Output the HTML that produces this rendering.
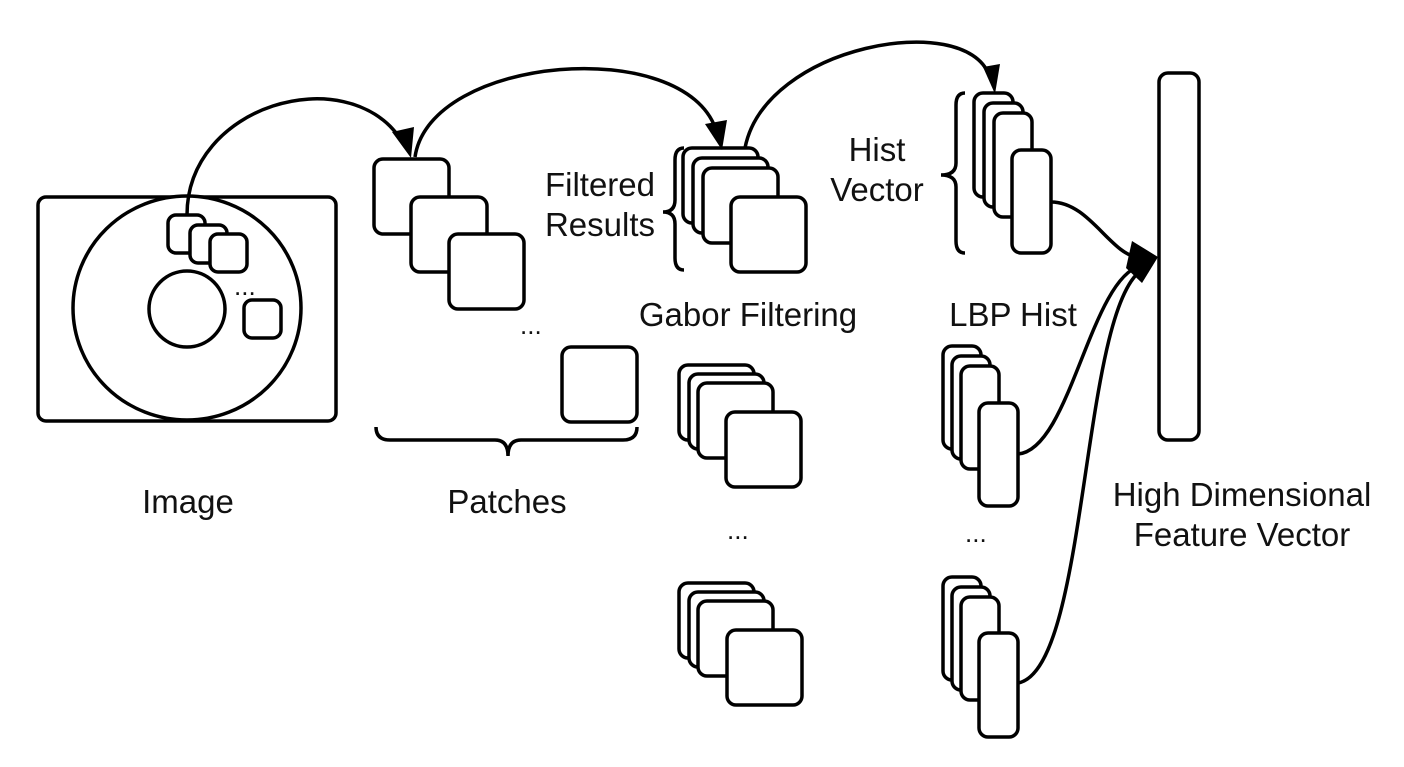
<!DOCTYPE html>
<html><head><meta charset="utf-8"><style>
html,body{margin:0;padding:0;background:#fff;}
svg{display:block;}
text{font-family:"Liberation Sans",Arial,sans-serif;font-size:33px;fill:#111;}
</style></head><body>
<svg width="1404" height="767" viewBox="0 0 1404 767" xmlns="http://www.w3.org/2000/svg">
<g fill="#fff" stroke="#000" stroke-width="3.5">
<rect x="38" y="197" width="298" height="224" rx="8"/>
<ellipse cx="187" cy="308" rx="114" ry="112"/>
<ellipse cx="187" cy="309" rx="38" ry="38"/>
<rect x="168" y="215" width="37" height="38" rx="8"/>
<rect x="190" y="225" width="37" height="38" rx="8"/>
<rect x="210" y="234" width="37" height="38" rx="8"/>
<rect x="244" y="300" width="37" height="38" rx="8"/>
<rect x="374" y="159" width="75" height="75" rx="9"/>
<rect x="411" y="197" width="76" height="75" rx="9"/>
<rect x="449" y="234" width="75" height="75" rx="9"/>
<rect x="562" y="347" width="75" height="75" rx="9"/>
<rect x="683" y="148" width="75" height="75" rx="9"/>
<rect x="693" y="158" width="75" height="75" rx="9"/>
<rect x="703" y="168" width="75" height="75" rx="9"/>
<rect x="731" y="197" width="75" height="75" rx="9"/>
<rect x="679" y="365" width="75" height="75" rx="9"/>
<rect x="689" y="374" width="75" height="75" rx="9"/>
<rect x="698" y="383" width="75" height="75" rx="9"/>
<rect x="726" y="412" width="75" height="75" rx="9"/>
<rect x="679" y="583" width="75" height="75" rx="9"/>
<rect x="689" y="592" width="75" height="75" rx="9"/>
<rect x="698" y="601" width="75" height="75" rx="9"/>
<rect x="727" y="630" width="75" height="75" rx="9"/>
<rect x="974" y="93" width="39" height="104" rx="9"/>
<rect x="984" y="103" width="39" height="104" rx="9"/>
<rect x="994" y="113" width="38" height="104" rx="9"/>
<rect x="1012" y="150" width="39" height="103" rx="9"/>
<rect x="943" y="346" width="38" height="103" rx="9"/>
<rect x="952" y="356" width="38" height="103" rx="9"/>
<rect x="961" y="366" width="38" height="103" rx="9"/>
<rect x="979" y="403" width="39" height="103" rx="9"/>
<rect x="943" y="577" width="38" height="103" rx="9"/>
<rect x="952" y="587" width="38" height="103" rx="9"/>
<rect x="961" y="597" width="38" height="103" rx="9"/>
<rect x="979" y="633" width="39" height="104" rx="9"/>
<rect x="1159" y="73" width="40" height="367" rx="9"/>
</g>
<g fill="none" stroke="#000" stroke-width="3.5">
<path d="M376,427 Q376,440 390,440 L495,440 Q508,440 508,456 Q508,440 521,440 L623,440 Q637,440 637,427"/>
<path d="M684,148 Q675,148 675,160 L675,200 Q675,212 663,212 Q675,212 675,224 L675,258 Q675,270 684,270"/>
<path d="M965,93 Q956,93 956,105 L956,163 Q956,175 941,175 Q956,175 956,187 L956,241 Q956,253 965,253"/>
<path d="M187,215 C187,105 345,60 400,138"/>
<path d="M415,157 C430,55 685,35 716,130"/>
<path d="M745,148 C765,45 965,10 989,75"/>
<path d="M1051,202 C1090,202 1110,255 1140,258"/>
<path d="M1018,454 C1070,450 1090,280 1140,266"/>
<path d="M1018,683 C1090,670 1080,300 1145,268"/>
</g>
<g fill="#000">
<polygon points="392,132 411,158 414,127"/>
<polygon points="705,124 722,150 727,120"/>
<polygon points="983,67 995,94 1000,64"/>
<polygon points="1158,257 1132,241 1126,268 1142,283"/>
</g>
<text x="234" y="295" style="font-size:26px">...</text>
<text x="520" y="334" style="font-size:26px">...</text>
<text x="727" y="539" style="font-size:26px">...</text>
<text x="965" y="542" style="font-size:26px">...</text>
<text x="188" y="513" text-anchor="middle">Image</text>
<text x="507" y="513" text-anchor="middle">Patches</text>
<text x="655" y="196" text-anchor="end">Filtered</text>
<text x="655" y="236" text-anchor="end">Results</text>
<text x="748" y="326" text-anchor="middle">Gabor Filtering</text>
<text x="877" y="161" text-anchor="middle">Hist</text>
<text x="877" y="201" text-anchor="middle">Vector</text>
<text x="1013" y="326" text-anchor="middle">LBP Hist</text>
<text x="1242" y="506" text-anchor="middle">High Dimensional</text>
<text x="1242" y="546" text-anchor="middle">Feature Vector</text>
</svg>
</body></html>
